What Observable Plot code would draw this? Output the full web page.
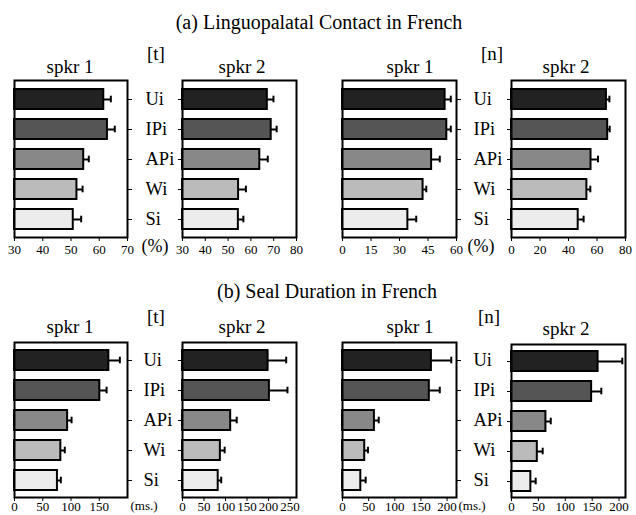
<!DOCTYPE html>
<html>
<head>
<meta charset="utf-8">
<script src="https://cdn.jsdelivr.net/npm/d3@7"></script>
<script src="https://cdn.jsdelivr.net/npm/@observablehq/plot@0.6"></script>
<style>
  html, body { margin: 0; padding: 0; background: white; }
  #root { position: relative; width: 636px; height: 515px; overflow: hidden; font-family: "Liberation Serif", "Times New Roman", Times, "DejaVu Serif", serif; color: black; }
  .lbl { position: absolute; white-space: nowrap; font-family: "Liberation Serif", "Times New Roman", Times, "DejaVu Serif", serif; }
</style>
</head>
<body>
<div id="root"></div>
<script>
// ---- data ----
const categories = ["Ui", "IPi", "APi", "Wi", "Si"];
const shades = ["#222222", "#555555", "#888888", "#bbbbbb", "#ececec"];

// (a) Linguopalatal contact (%)
const contactT1 = [61.6, 62.9, 54.5, 52.1, 50.8];
const contactT1Err = [2.5, 2.6, 1.8, 2.0, 2.8];
const contactT2 = [67.2, 68.9, 63.9, 54.6, 54.5];
const contactT2Err = [2.7, 2.4, 3.5, 3.2, 2.2];
const contactN1 = [54.0, 54.9, 46.9, 42.4, 34.4];
const contactN1Err = [3.0, 2.1, 4.3, 1.7, 4.4];
const contactN2 = [66.6, 67.5, 55.8, 52.9, 46.8];
const contactN2Err = [2.1, 1.4, 4.9, 2.4, 3.8];

// (b) Seal duration (ms.)
const sealT1 = [167, 151, 94, 82, 76];
const sealT1Err = [19.5, 12, 7, 7, 6];
const sealT2 = [199, 202, 112, 88, 83];
const sealT2Err = [42, 42, 14, 10, 7];
const sealN1 = [170, 166, 61, 42.5, 35];
const sealN1Err = [38, 20, 8.3, 6.2, 9.3];
const sealN2 = [161, 149, 64, 48, 36];
const sealN2Err = [45, 18, 9, 10, 9];

// tick labels
const ticksContactT1 = [30, 40, 50, 60, 70];
const ticksContactT2 = [30, 40, 50, 60, 70, 80];
const ticksContactN1 = [0, 15, 30, 45, 60];
const ticksContactN2 = [0, 20, 40, 60, 80];
const ticksSealT1 = [0, 50, 100, 150];
const ticksSealT2 = [0, 50, 100, 150, 200, 250];
const ticksSealN1 = [0, 50, 100, 150, 200];
const ticksSealN2 = [0, 50, 100, 150, 200];

const FONT = '"Liberation Serif", "Times New Roman", Times, "DejaVu Serif", serif';
const root = document.getElementById("root");

function panel({x0, y0, w, h, domain, ticks, values, errs, side, catDx, labelDy = 6.8}) {
  const ML = 20, MR = 60, MT = 10, MB = 24;
  const data = categories.map((c, i) => ({c, v: values[i], e: errs[i], fill: shades[i]}));
  const marks = [
    Plot.barX(data, {y: "c", x1: () => domain[0], x2: "v", fill: "fill", stroke: "black", strokeWidth: 2, insetTop: 4, insetBottom: 4}),
    Plot.ruleY(data, {y: "c", x1: "v", x2: d => d.v + d.e, stroke: "black", strokeWidth: 2}),
    Plot.tickX(data, {y: "c", x: d => d.v + d.e, stroke: "black", strokeWidth: 2, insetTop: 10.7, insetBottom: 10.7}),
    Plot.frame({stroke: "black", strokeWidth: 2}),
    Plot.text(ticks, {x: d => d, text: d => String(d), frameAnchor: "bottom", lineAnchor: "top", dy: labelDy, fontSize: 13})
  ];
  if (catDx != null) {
    marks.push(Plot.text(categories, {y: d => d, text: d => d, frameAnchor: "right", dx: catDx, textAnchor: "start", fontSize: 18.5}));
  }
  const chart = Plot.plot({
    width: ML + w + MR,
    height: MT + h + MB,
    marginLeft: ML, marginRight: MR, marginTop: MT, marginBottom: MB,
    x: {domain, ticks, tickSize: 4, tickPadding: 0, label: null, tickFormat: () => ""},
    y: {domain: categories, padding: 0.08, axis: side, tickSize: 4, tickPadding: 0, tickFormat: () => "", label: null},
    color: {type: "identity"},
    style: {background: "transparent", overflow: "visible", fontFamily: FONT, fontSize: "13px", color: "black"},
    marks
  });
  chart.style.position = "absolute";
  chart.style.left = (x0 - ML) + "px";
  chart.style.top = (y0 - MT) + "px";
  root.appendChild(chart);
}

function label(text, x, baseline, size, anchor) {
  const d = document.createElement("div");
  d.className = "lbl";
  d.textContent = text;
  d.style.fontSize = size + "px";
  d.style.lineHeight = size + "px";
  d.style.top = (baseline - 0.8375 * size) + "px";
  d.style.left = x + "px";
  if (anchor === "middle") d.style.transform = "translateX(-50%)";
  root.appendChild(d);
}

// row (a)
const topY = 80, topH = 157;
panel({x0: 14, y0: topY, w: 113, h: topH, domain: [30, 70], ticks: ticksContactT1, values: contactT1, errs: contactT1Err, side: "right", catDx: 18});
panel({x0: 182, y0: topY, w: 114, h: topH, domain: [30, 80], ticks: ticksContactT2, values: contactT2, errs: contactT2Err, side: "left"});
panel({x0: 342, y0: topY, w: 114, h: topH, domain: [0, 60], ticks: ticksContactN1, values: contactN1, errs: contactN1Err, side: "right", catDx: 17});
panel({x0: 511, y0: topY, w: 114, h: topH, domain: [0, 80], ticks: ticksContactN2, values: contactN2, errs: contactN2Err, side: "left"});

// row (b)
const botY = 342, botH = 155;
panel({x0: 14, y0: botY, w: 113, h: botH, domain: [0, 200], ticks: ticksSealT1, values: sealT1, errs: sealT1Err, side: "right", catDx: 16, labelDy: 4.5});
panel({x0: 182, y0: botY, w: 114, h: botH, domain: [0, 265], ticks: ticksSealT2, values: sealT2, errs: sealT2Err, side: "left", labelDy: 4.5});
panel({x0: 342, y0: botY, w: 114, h: botH, domain: [0, 218], ticks: ticksSealN1, values: sealN1, errs: sealN1Err, side: "right", catDx: 17, labelDy: 4.5});
panel({x0: 511, y0: botY + 2, w: 114, h: botH - 2, domain: [0, 212], ticks: ticksSealN2, values: sealN2, errs: sealN2Err, side: "left", labelDy: 4.5});

// titles and labels
label("(a) Linguopalatal Contact in French", 319, 29, 20, "middle");
label("[t]", 147, 60, 19);
label("[n]", 481, 60, 19);
label("spkr 1", 70, 73, 19, "middle");
label("spkr 2", 242, 73, 19, "middle");
label("spkr 1", 410, 73, 19, "middle");
label("spkr 2", 566, 73, 19, "middle");
label("(%)", 155, 252, 18, "middle");
label("(%)", 481, 252, 18, "middle");

label("(b) Seal Duration in French", 327, 298, 20, "middle");
label("[t]", 147, 323, 19);
label("[n]", 478, 323, 19);
label("spkr 1", 70, 333, 19, "middle");
label("spkr 2", 242, 333, 19, "middle");
label("spkr 1", 410, 333, 19, "middle");
label("spkr 2", 566, 335, 19, "middle");
label("(ms.)", 144, 510, 13, "middle");
label("(ms.)", 472, 510, 13, "middle");
</script>
</body>
</html>
